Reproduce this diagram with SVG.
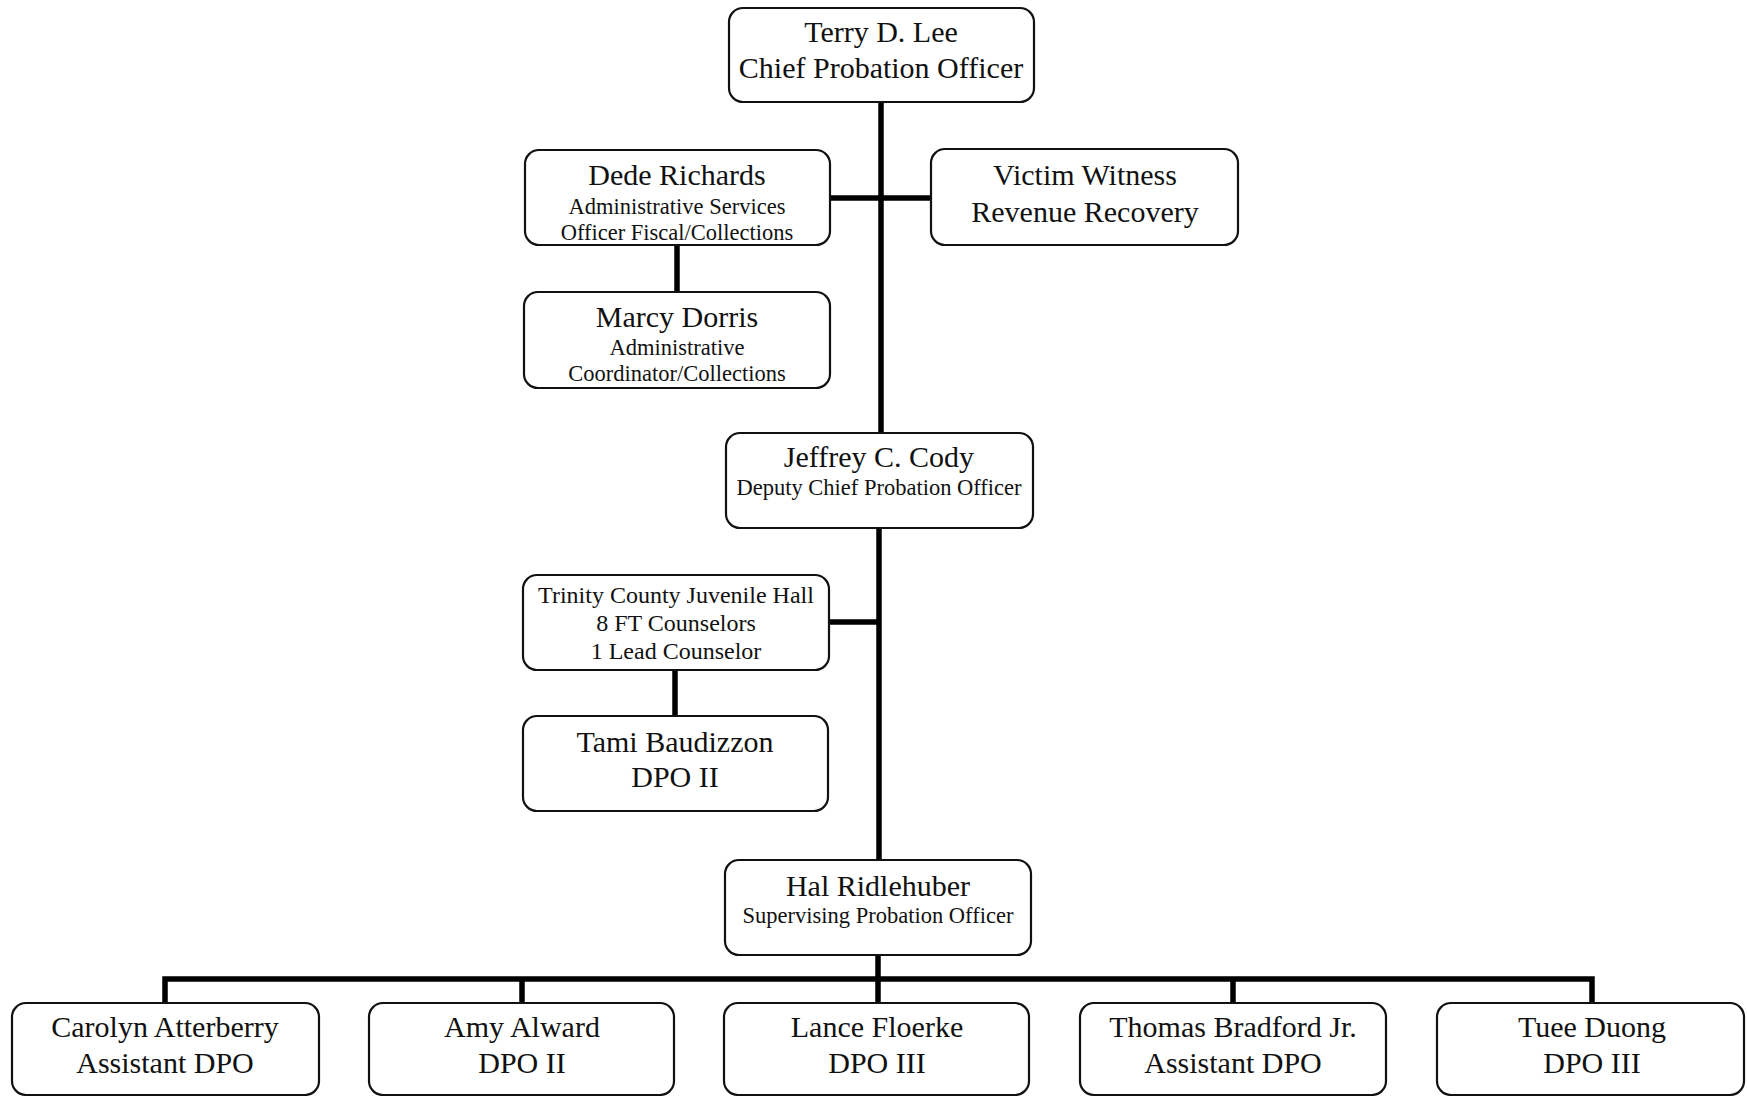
<svg xmlns="http://www.w3.org/2000/svg" width="1747" height="1096" viewBox="0 0 1747 1096">
<style>
.box{fill:#fff;stroke:#111;stroke-width:2.2}
.conn{stroke:#000;stroke-width:5.5;fill:none;stroke-linecap:butt}
text{font-family:"Liberation Serif","Times New Roman",serif;fill:#111;text-anchor:middle}
.n{font-size:30px}
.s{font-size:22.5px}
.m{font-size:24px}
</style>
<rect width="1747" height="1096" fill="#fff"/>
<g id="connectors">
<path class="conn" d="M881 102V433"/>
<path class="conn" d="M830 198H931"/>
<path class="conn" d="M677 245V292"/>
<path class="conn" d="M879 528V860"/>
<path class="conn" d="M829 622H879"/>
<path class="conn" d="M675 670V716"/>
<path class="conn" d="M878 955V1003"/>
<path class="conn" d="M165 1003V979H1592V1003"/>
<path class="conn" d="M522 979V1003"/>
<path class="conn" d="M1233 979V1003"/>
</g>
<g id="terry">
<rect class="box" x="729" y="8" width="305" height="94" rx="14"/>
<text class="n" x="881" y="42">Terry D. Lee</text>
<text class="n" x="881" y="78">Chief Probation Officer</text>
</g>
<g id="dede">
<rect class="box" x="525" y="150" width="305" height="95" rx="14"/>
<text class="n" x="677" y="185">Dede Richards</text>
<text class="s" x="677" y="214">Administrative Services</text>
<text class="s" x="677" y="240">Officer Fiscal/Collections</text>
</g>
<g id="victim">
<rect class="box" x="931" y="149" width="307" height="96" rx="14"/>
<text class="n" x="1085" y="185">Victim Witness</text>
<text class="n" x="1085" y="222">Revenue Recovery</text>
</g>
<g id="marcy">
<rect class="box" x="524" y="292" width="306" height="96" rx="14"/>
<text class="n" x="677" y="327">Marcy Dorris</text>
<text class="s" x="677" y="355">Administrative</text>
<text class="s" x="677" y="381">Coordinator/Collections</text>
</g>
<g id="jeffrey">
<rect class="box" x="726" y="433" width="307" height="95" rx="14"/>
<text class="n" x="879" y="467">Jeffrey C. Cody</text>
<text class="s" x="879" y="495">Deputy Chief Probation Officer</text>
</g>
<g id="trinity">
<rect class="box" x="523" y="575" width="306" height="95" rx="14"/>
<text class="m" x="676" y="603">Trinity County Juvenile Hall</text>
<text class="m" x="676" y="631">8 FT Counselors</text>
<text class="m" x="676" y="659">1 Lead Counselor</text>
</g>
<g id="tami">
<rect class="box" x="523" y="716" width="305" height="95" rx="14"/>
<text class="n" x="675" y="752">Tami Baudizzon</text>
<text class="n" x="675" y="787">DPO II</text>
</g>
<g id="hal">
<rect class="box" x="725" y="860" width="306" height="95" rx="14"/>
<text class="n" x="878" y="896">Hal Ridlehuber</text>
<text class="s" x="878" y="923">Supervising Probation Officer</text>
</g>
<g id="carolyn">
<rect class="box" x="12" y="1003" width="307" height="92" rx="14"/>
<text class="n" x="165" y="1037">Carolyn Atterberry</text>
<text class="n" x="165" y="1073">Assistant DPO</text>
</g>
<g id="amy">
<rect class="box" x="369" y="1003" width="305" height="92" rx="14"/>
<text class="n" x="522" y="1037">Amy Alward</text>
<text class="n" x="522" y="1073">DPO II</text>
</g>
<g id="lance">
<rect class="box" x="724" y="1003" width="305" height="92" rx="14"/>
<text class="n" x="877" y="1037">Lance Floerke</text>
<text class="n" x="877" y="1073">DPO III</text>
</g>
<g id="thomas">
<rect class="box" x="1080" y="1003" width="306" height="92" rx="14"/>
<text class="n" x="1233" y="1037">Thomas Bradford Jr.</text>
<text class="n" x="1233" y="1073">Assistant DPO</text>
</g>
<g id="tuee">
<rect class="box" x="1437" y="1003" width="307" height="92" rx="14"/>
<text class="n" x="1592" y="1037">Tuee Duong</text>
<text class="n" x="1592" y="1073">DPO III</text>
</g>
</svg>
